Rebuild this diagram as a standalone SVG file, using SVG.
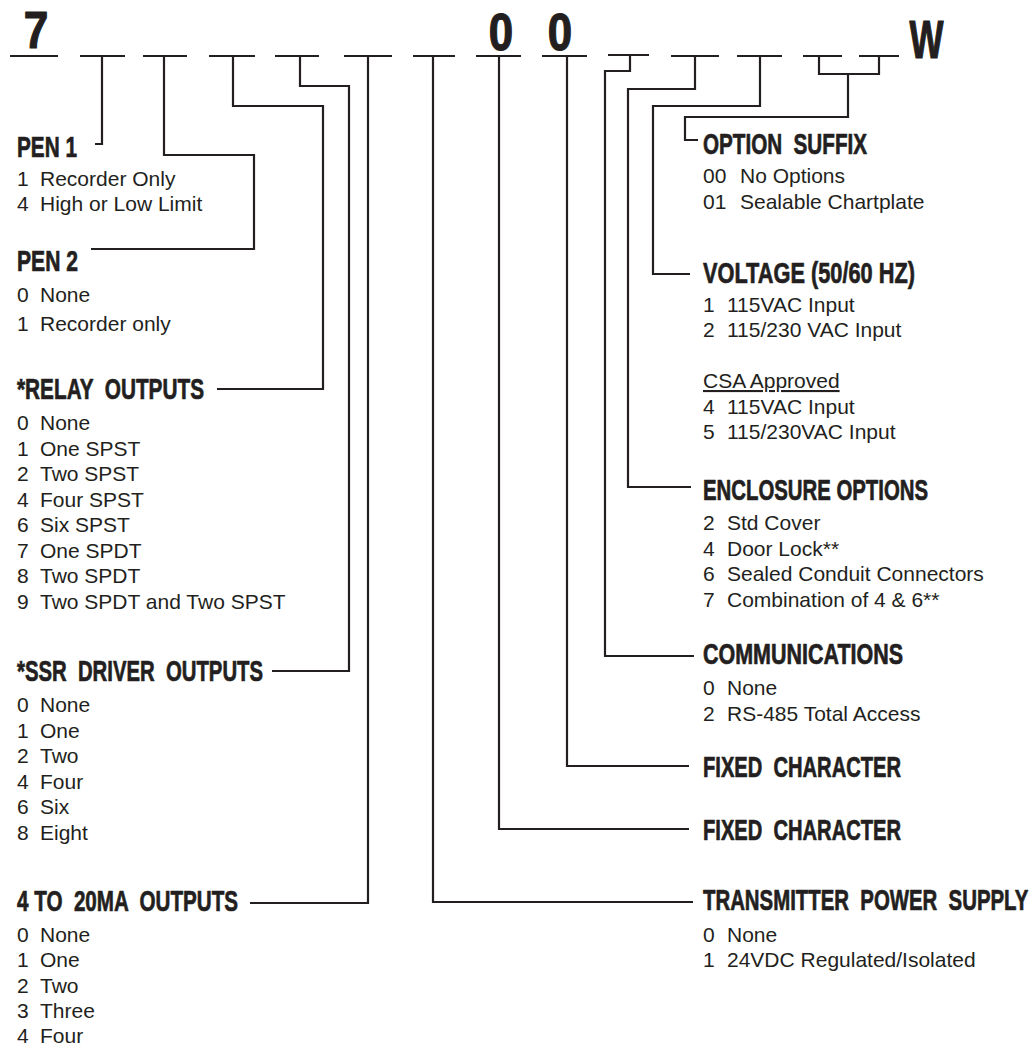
<svg xmlns="http://www.w3.org/2000/svg" width="1036" height="1047" viewBox="0 0 1036 1047">
<style>
.bg{fill:#ffffff}
.ln{fill:none;stroke:#231f20;stroke-width:2.2;stroke-linecap:butt;stroke-linejoin:miter}
.hd{font-family:"Liberation Sans",Arial,sans-serif;font-weight:bold;font-size:29px;fill:#231f20;stroke:#231f20;stroke-width:0.7;stroke-linejoin:round}
.big{font-family:"Liberation Sans",Arial,sans-serif;font-weight:bold;fill:#231f20;text-anchor:middle;stroke:#231f20;stroke-width:1.2;stroke-linejoin:round}
.it{font-family:"Liberation Sans",Arial,sans-serif;font-size:21px;fill:#231f20}
</style>
<rect class="bg" x="0" y="0" width="1036" height="1047"/>

<g id="code">
  <text class="big" font-size="52" transform="translate(36,48) scale(0.85,1)">7</text>
  <text class="big" font-size="51" transform="translate(501,50) scale(0.86,1)">0</text>
  <text class="big" font-size="51" transform="translate(560,50) scale(0.86,1)">0</text>
  <text class="big" font-size="53" transform="translate(926.5,58) scale(0.68,1)">W</text>
  <path class="ln" d="M10,56H58 M80,56H125 M143,56H187 M209,56H255 M275,56H319 M344,56H392 M413,56H455 M476,56H521 M542,56H587 M608,55H649 M671,56H719 M737,56H782 M803,56H842 M859,56H899"/>
</g>

<g id="connectors">
  <path class="ln" d="M102,56V144H95"/>
  <path class="ln" d="M164,56V155H254V249H91"/>
  <path class="ln" d="M233,56V106H323V389H217"/>
  <path class="ln" d="M300,56V86H349V671H272"/>
  <path class="ln" d="M368,56V903H250"/>
  <path class="ln" d="M433,56V902H693"/>
  <path class="ln" d="M499,56V829H689"/>
  <path class="ln" d="M567,56V766H689"/>
  <path class="ln" d="M630,55V71H605V656H694"/>
  <path class="ln" d="M695,56V89H628V487H691"/>
  <path class="ln" d="M760,56V106H653V274H690"/>
  <path class="ln" d="M819,56V74H879V56 M848,74V117H685V140H698"/>
</g>

<g id="pen1">
  <text class="hd" x="17" y="157" textLength="60" lengthAdjust="spacingAndGlyphs">PEN 1</text>
  <text class="it" y="186"><tspan x="17">1</tspan><tspan x="40">Recorder Only</tspan></text>
  <text class="it" y="211"><tspan x="17">4</tspan><tspan x="40">High or Low Limit</tspan></text>
</g>

<g id="pen2">
  <text class="hd" x="17" y="271" textLength="61" lengthAdjust="spacingAndGlyphs">PEN 2</text>
  <text class="it" y="302"><tspan x="17">0</tspan><tspan x="40">None</tspan></text>
  <text class="it" y="331"><tspan x="17">1</tspan><tspan x="40">Recorder only</tspan></text>
</g>

<g id="relay-outputs">
  <text class="hd" x="17" y="399" textLength="187" lengthAdjust="spacingAndGlyphs" xml:space="preserve">*RELAY  OUTPUTS</text>
  <text class="it" y="430"><tspan x="17">0</tspan><tspan x="40">None</tspan></text>
  <text class="it" y="455.5"><tspan x="17">1</tspan><tspan x="40">One SPST</tspan></text>
  <text class="it" y="481"><tspan x="17">2</tspan><tspan x="40">Two SPST</tspan></text>
  <text class="it" y="506.5"><tspan x="17">4</tspan><tspan x="40">Four SPST</tspan></text>
  <text class="it" y="532"><tspan x="17">6</tspan><tspan x="40">Six SPST</tspan></text>
  <text class="it" y="557.5"><tspan x="17">7</tspan><tspan x="40">One SPDT</tspan></text>
  <text class="it" y="583"><tspan x="17">8</tspan><tspan x="40">Two SPDT</tspan></text>
  <text class="it" y="608.5"><tspan x="17">9</tspan><tspan x="40">Two SPDT and Two SPST</tspan></text>
</g>

<g id="ssr-driver-outputs">
  <text class="hd" x="17" y="681" textLength="246" lengthAdjust="spacingAndGlyphs" xml:space="preserve">*SSR  DRIVER  OUTPUTS</text>
  <text class="it" y="712"><tspan x="17">0</tspan><tspan x="40">None</tspan></text>
  <text class="it" y="737.5"><tspan x="17">1</tspan><tspan x="40">One</tspan></text>
  <text class="it" y="763"><tspan x="17">2</tspan><tspan x="40">Two</tspan></text>
  <text class="it" y="788.5"><tspan x="17">4</tspan><tspan x="40">Four</tspan></text>
  <text class="it" y="814"><tspan x="17">6</tspan><tspan x="40">Six</tspan></text>
  <text class="it" y="839.5"><tspan x="17">8</tspan><tspan x="40">Eight</tspan></text>
</g>

<g id="ma-outputs">
  <text class="hd" x="17" y="911" textLength="221" lengthAdjust="spacingAndGlyphs" xml:space="preserve">4 TO  20MA  OUTPUTS</text>
  <text class="it" y="942"><tspan x="17">0</tspan><tspan x="40">None</tspan></text>
  <text class="it" y="967"><tspan x="17">1</tspan><tspan x="40">One</tspan></text>
  <text class="it" y="992.5"><tspan x="17">2</tspan><tspan x="40">Two</tspan></text>
  <text class="it" y="1018"><tspan x="17">3</tspan><tspan x="40">Three</tspan></text>
  <text class="it" y="1043"><tspan x="17">4</tspan><tspan x="40">Four</tspan></text>
</g>

<g id="option-suffix">
  <text class="hd" x="703" y="154" textLength="164" lengthAdjust="spacingAndGlyphs" xml:space="preserve">OPTION  SUFFIX</text>
  <text class="it" y="183"><tspan x="703">00</tspan><tspan x="740">No Options</tspan></text>
  <text class="it" y="209"><tspan x="703">01</tspan><tspan x="740">Sealable Chartplate</tspan></text>
</g>

<g id="voltage">
  <text class="hd" x="703" y="283" textLength="212" lengthAdjust="spacingAndGlyphs">VOLTAGE (50/60 HZ)</text>
  <text class="it" y="312"><tspan x="703">1</tspan><tspan x="727">115VAC Input</tspan></text>
  <text class="it" y="337"><tspan x="703">2</tspan><tspan x="727">115/230 VAC Input</tspan></text>
  <text class="it" x="703" y="388" text-decoration="underline">CSA Approved</text>
  <text class="it" y="414"><tspan x="703">4</tspan><tspan x="727">115VAC Input</tspan></text>
  <text class="it" y="439"><tspan x="703">5</tspan><tspan x="727">115/230VAC Input</tspan></text>
</g>

<g id="enclosure-options">
  <text class="hd" x="703" y="500" textLength="225" lengthAdjust="spacingAndGlyphs">ENCLOSURE OPTIONS</text>
  <text class="it" y="530"><tspan x="703">2</tspan><tspan x="727">Std Cover</tspan></text>
  <text class="it" y="555.5"><tspan x="703">4</tspan><tspan x="727">Door Lock**</tspan></text>
  <text class="it" y="581"><tspan x="703">6</tspan><tspan x="727">Sealed Conduit Connectors</tspan></text>
  <text class="it" y="606.5"><tspan x="703">7</tspan><tspan x="727">Combination of 4 &amp; 6**</tspan></text>
</g>

<g id="communications">
  <text class="hd" x="703" y="664" textLength="200" lengthAdjust="spacingAndGlyphs">COMMUNICATIONS</text>
  <text class="it" y="695"><tspan x="703">0</tspan><tspan x="727">None</tspan></text>
  <text class="it" y="721"><tspan x="703">2</tspan><tspan x="727">RS-485 Total Access</tspan></text>
</g>

<g id="fixed-character-1">
  <text class="hd" x="703" y="777" textLength="198" lengthAdjust="spacingAndGlyphs" xml:space="preserve">FIXED  CHARACTER</text>
</g>

<g id="fixed-character-2">
  <text class="hd" x="703" y="840" textLength="198" lengthAdjust="spacingAndGlyphs" xml:space="preserve">FIXED  CHARACTER</text>
</g>

<g id="transmitter-power-supply">
  <text class="hd" transform="translate(703,910) scale(0.703,1)" xml:space="preserve">TRANSMITTER  POWER  SUPPLY</text>
  <text class="it" y="942"><tspan x="703">0</tspan><tspan x="727">None</tspan></text>
  <text class="it" y="967"><tspan x="703">1</tspan><tspan x="727">24VDC Regulated/Isolated</tspan></text>
</g>
</svg>
